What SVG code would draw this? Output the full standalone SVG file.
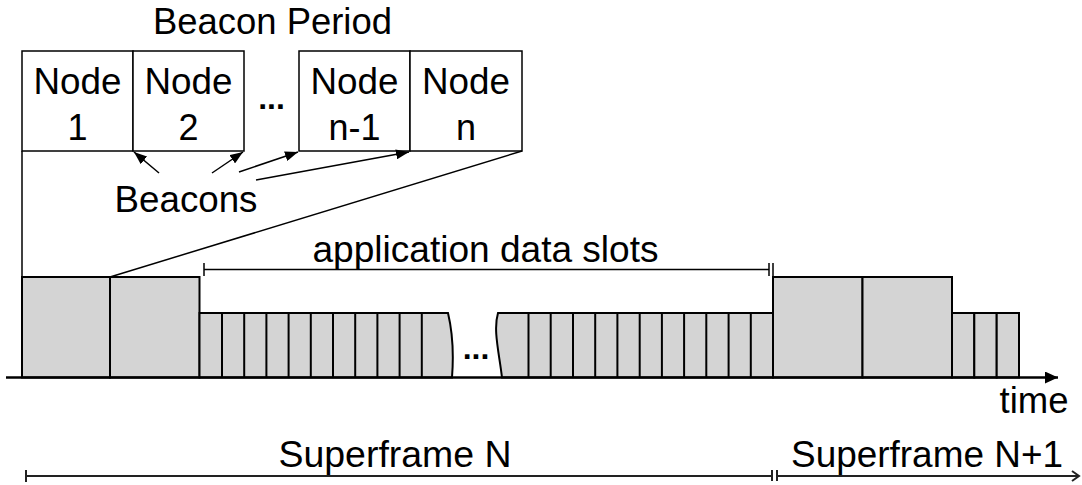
<svg xmlns="http://www.w3.org/2000/svg" width="1082" height="485" viewBox="0 0 1082 485">
<style>
text{font-family:"Liberation Sans",Arial,Helvetica,sans-serif;font-size:36px;fill:#000;text-anchor:middle}
.dots{font-weight:bold;font-size:32px}
.nb{fill:#fff;stroke:#000;stroke-width:1.5}
.slot{fill:#d4d4d4;stroke:#000;stroke-width:2}
.div{stroke:#000;stroke-width:2;fill:none}
.ln{stroke:#000;stroke-width:1.5;fill:none}
.br{stroke:#222;stroke-width:2;fill:none}
</style>
<defs>
<marker id="ah" markerUnits="userSpaceOnUse" markerWidth="14" markerHeight="10" refX="13" refY="5" orient="auto">
<path d="M0,0 L13,5 L0,10 Z" fill="#000"/>
</marker>
<marker id="ta" markerUnits="userSpaceOnUse" markerWidth="14" markerHeight="12" refX="13" refY="6" orient="auto">
<path d="M0,0 L13,6 L0,12 Z" fill="#000"/>
</marker>
<marker id="oa" markerUnits="userSpaceOnUse" markerWidth="10" markerHeight="12" refX="8" refY="6" orient="auto">
<path d="M1,1 L8,6 L1,11" fill="none" stroke="#222" stroke-width="2"/>
</marker>
</defs>

<text x="272.5" y="34" textLength="239" lengthAdjust="spacingAndGlyphs">Beacon Period</text>

<g id="node1">
<rect class="nb" x="22" y="51" width="111" height="100"/>
<text x="77.5" y="94" textLength="88" lengthAdjust="spacingAndGlyphs">Node</text>
<text x="77.5" y="140">1</text>
</g>
<g id="node2">
<rect class="nb" x="133" y="51" width="111" height="100"/>
<text x="188.5" y="94" textLength="88" lengthAdjust="spacingAndGlyphs">Node</text>
<text x="188.5" y="140">2</text>
</g>
<text class="dots" x="271.5" y="109">...</text>
<g id="node-n-1">
<rect class="nb" x="299" y="51" width="111" height="100"/>
<text x="354.5" y="94" textLength="88" lengthAdjust="spacingAndGlyphs">Node</text>
<text x="354.5" y="140" textLength="52" lengthAdjust="spacingAndGlyphs">n-1</text>
</g>
<g id="node-n">
<rect class="nb" x="410" y="51" width="112" height="100"/>
<text x="466" y="94" textLength="88" lengthAdjust="spacingAndGlyphs">Node</text>
<text x="466" y="140">n</text>
</g>

<g id="beacons-label">
<text x="186" y="212" textLength="143" lengthAdjust="spacingAndGlyphs">Beacons</text>
</g>

<g id="superframe-n-slots">
<rect class="slot" x="22" y="277" width="88" height="100.5"/>
<rect class="slot" x="110" y="277" width="89.5" height="100.5"/>
<path class="slot" d="M199.5,377.5 V313 H448 C452,330 454,352 452,377.5 Z"/>
<path class="div" d="M222,313V377.5 M244.2,313V377.5 M266.4,313V377.5 M288.6,313V377.5 M310.8,313V377.5 M333,313V377.5 M355.2,313V377.5 M377.4,313V377.5 M399.6,313V377.5 M421.8,313V377.5"/>
<text class="dots" x="476" y="359">...</text>
<path class="slot" d="M502,377.5 C499,352 493,330 498,313 H773 V377.5 Z"/>
<path class="div" d="M528.5,313V377.5 M550.7,313V377.5 M573,313V377.5 M595.2,313V377.5 M617.4,313V377.5 M639.7,313V377.5 M661.9,313V377.5 M684.1,313V377.5 M706.3,313V377.5 M728.6,313V377.5 M750.8,313V377.5"/>
</g>

<g id="superframe-n1-slots">
<rect class="slot" x="773" y="277" width="89.5" height="100.5"/>
<rect class="slot" x="862.5" y="277" width="89.5" height="100.5"/>
<rect class="slot" x="952" y="313" width="22.3" height="64.5"/>
<rect class="slot" x="974.3" y="313" width="22.4" height="64.5"/>
<rect class="slot" x="996.7" y="313" width="22.3" height="64.5"/>
</g>

<g id="connectors">
<line class="ln" x1="22" y1="151" x2="22" y2="277"/>
<line class="ln" x1="522" y1="151" x2="110" y2="277"/>
<line class="ln" x1="159" y1="173" x2="134" y2="152" marker-end="url(#ah)"/>
<line class="ln" x1="212" y1="173" x2="243" y2="152" marker-end="url(#ah)"/>
<line class="ln" x1="239" y1="172" x2="298" y2="152" marker-end="url(#ah)"/>
<line class="ln" x1="256" y1="180" x2="409" y2="152" marker-end="url(#ah)"/>
<line x1="6" y1="377.5" x2="1058" y2="377.5" stroke="#000" stroke-width="2.5" marker-end="url(#ta)"/>
<path class="ln" d="M204,269.5 H769 M204,263 V276 M769,263 V276 M773,263 V277" stroke-width="2"/>
<path class="br" d="M26,476 H772 M26,470 V482 M772,470 V481 M777,470 V481"/>
<line class="br" x1="777" y1="476" x2="1079" y2="476" marker-end="url(#oa)"/>
</g>

<text x="485.5" y="262" textLength="346" lengthAdjust="spacingAndGlyphs">application data slots</text>
<text x="1034" y="413" textLength="69" lengthAdjust="spacingAndGlyphs">time</text>
<text x="395" y="467" textLength="233" lengthAdjust="spacingAndGlyphs">Superframe N</text>
<text x="927" y="467" textLength="272" lengthAdjust="spacingAndGlyphs">Superframe N+1</text>
</svg>
